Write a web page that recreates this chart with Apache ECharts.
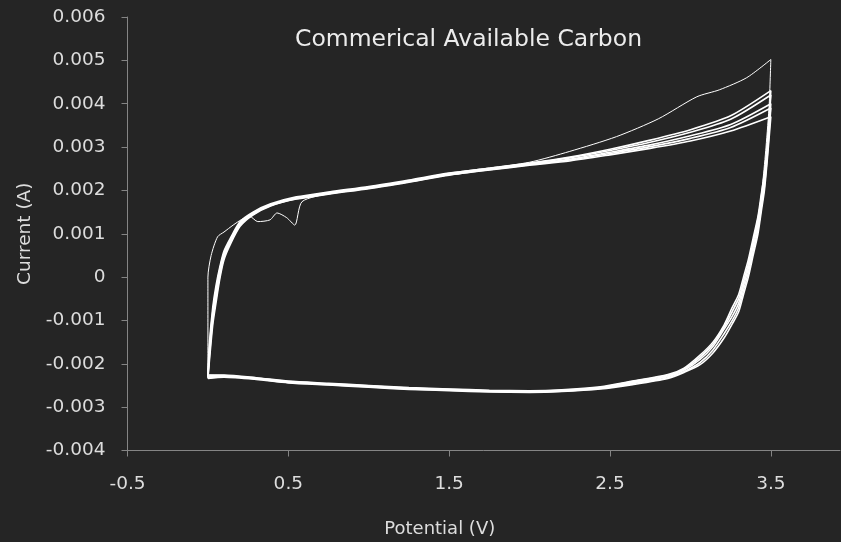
<!DOCTYPE html>
<html>
<head>
<meta charset="utf-8">
<script src="https://cdn.jsdelivr.net/npm/echarts@6/dist/echarts.min.js"></script>
<style>html,body{margin:0;padding:0;background:#252525;}#c{width:841px;height:542px;}</style>
</head>
<body>
<div id="c"></div>
<script>
// Potential steps (V)
const potentialUp = [0, 0.01, 0.03, 0.05, 0.075, 0.1, 0.14, 0.2, 0.28, 0.39, 0.55, 0.76, 1.0, 1.25, 1.5, 1.75, 2.0, 2.25, 2.5, 2.75, 3.0, 3.25, 3.5];
const potentialDown = [3.5, 3.48, 3.46, 3.44, 3.42, 3.39, 3.36, 3.33, 3.3, 3.26, 3.21, 3.14, 3.06, 2.96, 2.86, 2.64, 2.44, 2.2, 2.0, 1.75, 1.5, 1.25, 1.0, 0.75, 0.5, 0.3, 0.1, 0.0];

// First cycle (own potentials)
const cycle1PotUp = [0, 0, 0.02, 0.06, 0.1, 0.157, 0.21, 0.26, 0.31, 0.386, 0.43, 0.49, 0.54, 0.585, 0.76, 1.0, 1.25, 1.5, 1.75, 2.0, 2.25, 2.54, 2.8, 3.04, 3.18, 3.35, 3.5];
const cycle1CurUp = [-0.00225, 0.0, 0.0005, 0.00093, 0.00104, 0.0012, 0.00133, 0.0014, 0.00128, 0.00132, 0.00148, 0.00137, 0.0012, 0.00174, 0.00193, 0.00207, 0.00222, 0.0024, 0.00252, 0.00265, 0.0029, 0.00324, 0.00365, 0.00416, 0.00432, 0.0046, 0.00502];
const cycle1PotDown = [3.5, 3.49, 3.47, 3.45, 3.43, 3.40, 3.37, 3.34, 3.31, 3.27, 3.22, 3.15, 3.07, 2.97, 2.87, 2.64, 2.44, 2.2, 2.0, 1.75, 1.5, 1.25, 1.0, 0.75, 0.5, 0.3, 0.1, 0.0];
const cycle1CurDown = [0.00502, 0.0040, 0.0030, 0.0022, 0.0016, 0.0010, 0.0004, 0.0, -0.0004, -0.0007, -0.0011, -0.0015, -0.0018, -0.0021, -0.00225, -0.0024, -0.00254, -0.00261, -0.00263, -0.00262, -0.00259, -0.00256, -0.00251, -0.00246, -0.00241, -0.00233, -0.00227, -0.00226];

// Later cycles, current (A)
const cycle2Up = [-0.00226, -0.0015, -0.0007, -0.0002, 0.00025, 0.0006, 0.0009, 0.00128, 0.0015, 0.00169, 0.00185, 0.00197, 0.00209, 0.00224, 0.0024, 0.00251, 0.00263, 0.00277, 0.00295, 0.00316, 0.0034, 0.00372, 0.0043];
const cycle2Down = [0.0043, 0.0032, 0.0024, 0.0019, 0.0014, 0.0009, 0.0004, 0.0, -0.0004, -0.0007, -0.0011, -0.0015, -0.0018, -0.0021, -0.00225, -0.0024, -0.00253, -0.0026, -0.00262, -0.00261, -0.00258, -0.00255, -0.0025, -0.00245, -0.0024, -0.00232, -0.00226, -0.00226];
const cycle3Up = [-0.00228, -0.0016, -0.0008, -0.0003, 0.0002, 0.00055, 0.00086, 0.00125, 0.00148, 0.00167, 0.00183, 0.00195, 0.00207, 0.00222, 0.00238, 0.0025, 0.00262, 0.00275, 0.00292, 0.00311, 0.00334, 0.00364, 0.0042];
const cycle3Down = [0.0042, 0.0031, 0.0023, 0.0018, 0.0013, 0.0008, 0.0003, -0.0001, -0.0005, -0.0008, -0.00115, -0.00155, -0.00185, -0.00212, -0.00228, -0.00242, -0.00255, -0.00261, -0.00263, -0.00262, -0.00259, -0.00256, -0.00251, -0.00246, -0.00241, -0.00233, -0.00227, -0.00228];
const cycle4Up = [-0.0023, -0.0017, -0.0009, -0.0004, 0.00012, 0.0005, 0.00082, 0.00122, 0.00146, 0.00166, 0.00182, 0.00194, 0.00206, 0.00221, 0.00237, 0.00249, 0.0026, 0.00272, 0.00288, 0.00305, 0.00326, 0.00352, 0.0040];
const cycle4Down = [0.0040, 0.0030, 0.0022, 0.0017, 0.0012, 0.0007, 0.0002, -0.0002, -0.0006, -0.0009, -0.0012, -0.0016, -0.0019, -0.00215, -0.0023, -0.00244, -0.00256, -0.00262, -0.00264, -0.00263, -0.0026, -0.00257, -0.00252, -0.00247, -0.00242, -0.00234, -0.00229, -0.0023];
const cycle5Up = [-0.00232, -0.0018, -0.001, -0.0005, 0.00005, 0.00045, 0.0008, 0.0012, 0.00145, 0.00165, 0.00181, 0.00193, 0.00205, 0.0022, 0.00236, 0.00248, 0.00259, 0.0027, 0.00285, 0.00301, 0.0032, 0.00345, 0.0039];
const cycle5Down = [0.0039, 0.0029, 0.0021, 0.0016, 0.0011, 0.0006, 0.0001, -0.0003, -0.0007, -0.001, -0.0013, -0.00168, -0.00197, -0.00218, -0.00232, -0.00246, -0.00257, -0.00263, -0.00265, -0.00264, -0.00261, -0.00258, -0.00253, -0.00248, -0.00243, -0.00235, -0.0023, -0.00232];
const cycle6Up = [-0.00234, -0.0019, -0.0011, -0.0006, -0.00002, 0.0004, 0.00076, 0.00117, 0.00143, 0.00164, 0.0018, 0.00192, 0.00204, 0.00219, 0.00235, 0.00247, 0.00258, 0.00268, 0.00282, 0.00297, 0.00314, 0.00337, 0.0037];
const cycle6Down = [0.0037, 0.0028, 0.0020, 0.0015, 0.0010, 0.0005, 0.0, -0.0004, -0.0008, -0.00108, -0.0014, -0.00175, -0.00202, -0.0022, -0.00234, -0.00248, -0.00258, -0.00264, -0.00266, -0.00265, -0.00262, -0.00259, -0.00254, -0.00249, -0.00244, -0.00236, -0.00231, -0.00234];

const titleText = 'Commerical Available Carbon';
const xName = 'Potential (V)';
const yName = 'Current (A)';

function pairs(xs, ys) { return xs.map((x, i) => [x, ys[i]]); }
function loop(up, down) { return pairs(potentialUp, up).concat(pairs(potentialDown, down)); }

const cycles = [
  pairs(cycle1PotUp, cycle1CurUp).concat(pairs(cycle1PotDown, cycle1CurDown)),
  loop(cycle2Up, cycle2Down),
  loop(cycle3Up, cycle3Down),
  loop(cycle4Up, cycle4Down),
  loop(cycle5Up, cycle5Down),
  loop(cycle6Up, cycle6Down)
];

const FONT = 'DejaVu Sans';
const chart = echarts.init(document.getElementById('c'), null, {renderer: 'canvas'});
chart.setOption({
  backgroundColor: '#252525',
  animation: false,
  title: {
    text: titleText, left: 290, top: 23,
    textStyle: {color: '#ececec', fontFamily: FONT, fontSize: 23.5, fontWeight: 'normal'}
  },
  grid: {left: 127.5, right: 1, top: 17, bottom: 91.5, containLabel: false, outerBoundsMode: 'none'},
  xAxis: {
    type: 'value', min: -0.5, max: 3.93, interval: 1,
    name: xName, nameLocation: 'middle', nameGap: 70,
    nameTextStyle: {color: '#dddddd', fontFamily: FONT, fontSize: 18, padding: [0, 88, 0, 0]},
    axisLine: {show: true, onZero: false, lineStyle: {color: '#858585', width: 1}},
    axisTick: {show: true, inside: false, length: 6, lineStyle: {color: '#858585'}},
    axisLabel: {color: '#dddddd', fontFamily: FONT, fontSize: 18.5, margin: 24, showMaxLabel: false},
    splitLine: {show: false}
  },
  yAxis: {
    type: 'value', min: -0.004, max: 0.006, interval: 0.001,
    name: yName, nameLocation: 'middle', nameGap: 93, nameRotate: 90,
    nameTextStyle: {color: '#dddddd', fontFamily: FONT, fontSize: 18.5},
    axisLine: {show: true, onZero: false, lineStyle: {color: '#858585', width: 1}},
    axisTick: {show: true, inside: false, length: 6, lineStyle: {color: '#858585'}},
    axisLabel: {color: '#dddddd', fontFamily: FONT, fontSize: 18.5, margin: 22,
      formatter: v => (Math.round(v * 1000) === 0 ? '0' : (Math.round(v * 1000) / 1000).toString())},
    splitLine: {show: false}
  },
  series: cycles.map((d, i) => ({
    type: 'line', data: d, showSymbol: false, smooth: 0.25,
    lineStyle: {color: '#ffffff', width: i === 0 ? 1 : 1.6},
    z: 2
  }))
});
</script>
</body>
</html>
